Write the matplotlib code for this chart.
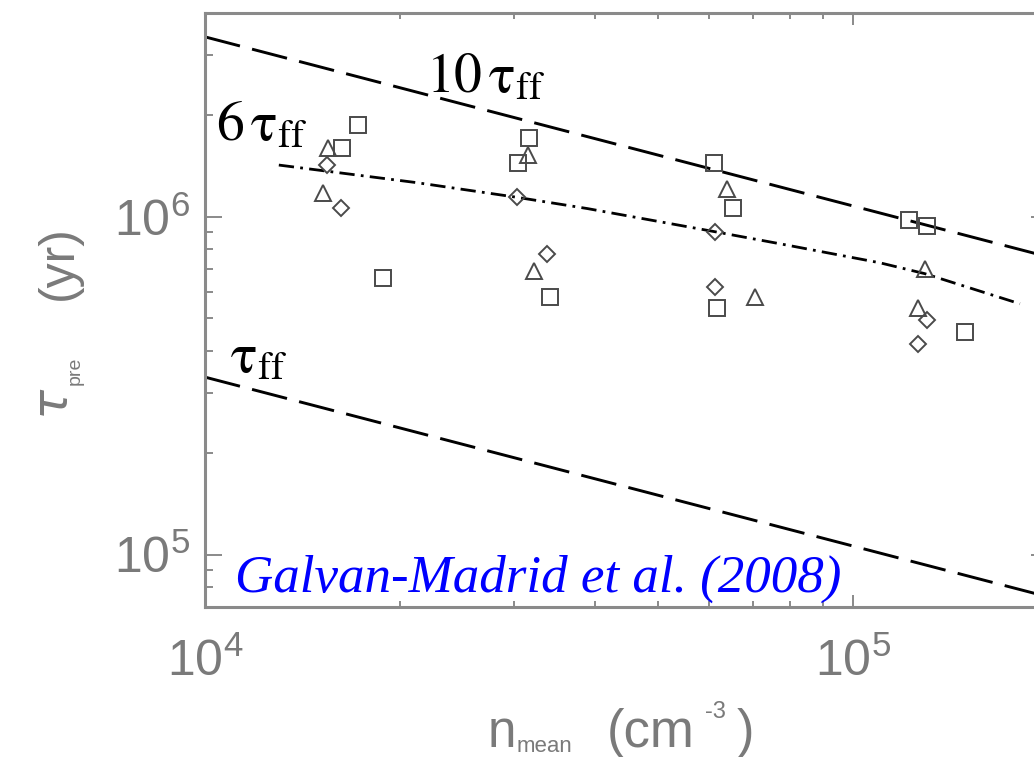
import numpy as np
import matplotlib.pyplot as plt

plt.rcParams['font.family'] = ['Liberation Sans', 'DejaVu Sans']
plt.rcParams['lines.scale_dashes'] = False

W, H = 1034, 757

# values
sq_n = [1.72e4, 1.63e4, 1.88e4, 3.16e4, 3.04e4, 3.41e4, 6.10e4, 6.53e4, 6.17e4, 1.22e5, 1.30e5, 1.49e5]
sq_t = [1.86e6, 1.59e6, 6.59e5, 1.71e6, 1.44e6, 5.79e5, 1.44e6, 1.06e6, 5.37e5, 9.8e5, 9.4e5, 4.56e5]
tri_n = [1.55e4, 1.52e4, 3.15e4, 3.22e4, 6.39e4, 7.06e4, 1.29e5, 1.26e5]
tri_t = [1.60e6, 1.17e6, 1.52e6, 6.92e5, 1.21e6, 5.79e5, 7.01e5, 5.37e5]
dia_n = [1.54e4, 1.62e4, 3.03e4, 3.37e4, 6.12e4, 6.12e4, 1.30e5, 1.26e5]
dia_t = [1.42e6, 1.06e6, 1.14e6, 7.76e5, 9.02e5, 6.19e5, 4.94e5, 4.20e5]

# dash-dot curve (6 tau_ff fit)
fit_n = [1.30e4, 2.12e4, 3.03e4, 3.89e4, 6.12e4, 7.71e4, 1.10e5, 1.29e5, 1.81e5]
fit_t = [1.42e6, 1.26e6, 1.14e6, 1.056e6, 9.02e5, 8.31e5, 7.30e5, 6.78e5, 5.52e5]

# free-fall lines
ff_n = [1e4, 2e5]
ff_t = [3.35e5, 7.5e4]
ten_t = [3.4e6, 7.6e5]

gray = '#8a8a8a'
lab = '#7a7a7a'
mk = '#4a4a4a'

fig = plt.figure(figsize=(W / 100, H / 100), dpi=100)
ax = fig.add_axes([205 / W, (H - 607) / H, (1048 - 205) / W, (607 - 13) / H])
ax.set_xscale('log')
ax.set_yscale('log')
ax.set_xlim(1e4, 2e5)
ax.set_ylim(7e4, 4e6)

for s in ax.spines.values():
    s.set_color(gray)
    s.set_linewidth(2.2)
ax.tick_params(which='both', direction='in', top=True, right=True, color=gray,
               width=1.4, labelcolor=lab, labelsize=36)
ax.tick_params(axis='y', which='major', length=12, pad=11)
ax.tick_params(axis='y', which='minor', length=6)
ax.tick_params(axis='x', which='major', length=8.6, pad=23)
ax.tick_params(axis='x', which='minor', length=4.3)

ax.plot(ff_n, ten_t, color='k', lw=2.1, dashes=(26, 9))
ax.plot(ff_n, ff_t, color='k', lw=2.1, dashes=(26, 9))
ax.plot(fit_n, fit_t, color='k', lw=2.0, dashes=(11, 4.5, 2, 4.5))

ax.plot(sq_n, sq_t, ls='none', marker='s', ms=12, mfc='none', mec=mk, mew=1.4)
ax.plot(tri_n, tri_t, ls='none', marker='^', ms=11, mfc='none', mec=mk, mew=1.4)
ax.plot(dia_n, dia_t, ls='none', marker='D', ms=8.5, mfc='none', mec=mk, mew=1.4)

# annotations
fig.text(426 / W, 1 - 93 / H, r'$10\,\mathrm{\tau}_{\rm ff}$', fontsize=40, math_fontfamily='stix',
         ha='left', va='baseline')
fig.text(216 / W, 1 - 140 / H, r'$6\,\mathrm{\tau}_{\rm ff}$', fontsize=40, math_fontfamily='stix',
         ha='left', va='baseline')
fig.text(230 / W, 1 - 372 / H, r'$\mathrm{\tau}_{\rm ff}$', fontsize=40, math_fontfamily='stix',
         ha='left', va='baseline')
fig.text(235 / W, 1 - 592 / H, 'Galvan-Madrid et al. (2008)', family='Liberation Serif',
         style='italic', color='#0000ff', fontsize=38.2, ha='left', va='baseline')

# x label in pieces (tiny subscript like the original)
fig.text(488 / W, 1 - 747 / H, 'n', fontsize=37, color=lab)
fig.text(517 / W, 1 - 752 / H, 'mean', fontsize=16, color=lab)
fig.text(607 / W, 1 - 747 / H, '(cm', fontsize=38, color=lab)
fig.text(705 / W, 1 - 718 / H, '-3', fontsize=17, color=lab)
fig.text(737 / W, 1 - 747 / H, ')', fontsize=38, color=lab)

# y label in pieces, rotated
kw = dict(rotation=90, rotation_mode='anchor', ha='left', va='baseline', color=lab)
fig.text(68 / W, 1 - 420 / H, r'$\tau$', fontsize=36, math_fontfamily='dejavusans', **kw)
fig.text(80 / W, 1 - 385 / H, 'pre', fontsize=14, **kw)
fig.text(72 / W, 1 - 300 / H, '(yr)', fontsize=36, **kw)

fig.savefig('out.png', dpi=100)
